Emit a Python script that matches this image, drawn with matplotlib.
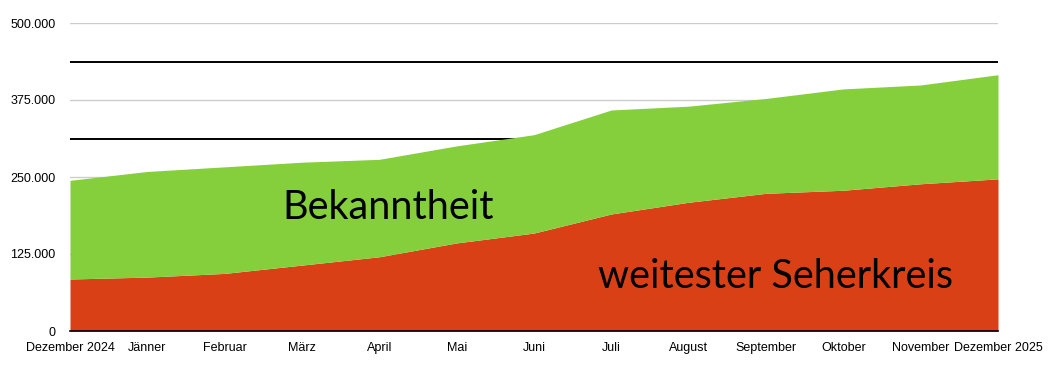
import matplotlib
matplotlib.use("Agg")
import matplotlib.pyplot as plt
import numpy as np

# Monate und Werte
monate = ["Dezember 2024", "Jänner", "Februar", "März", "April", "Mai", "Juni",
          "Juli", "August", "September", "Oktober", "November", "Dezember 2025"]
seherkreis = [84400, 87500, 93500, 107000, 120500, 143000, 159000,
              190000, 209000, 223500, 228500, 239000, 247000]
bekanntheit_gesamt = [244600, 259000, 266500, 274000, 278700, 300500, 318700,
                      358800, 365000, 377500, 393000, 399400, 416000]

y_ticks = [0, 125000, 250000, 375000, 500000]
y_ticklabels = ["0", "125.000", "250.000", "375.000", "500.000"]
zwischenlinien = [312500, 437500]

rot = "#D94016"
gruen = "#84CF3B"

x = np.arange(len(monate))

fig = plt.figure(figsize=(10.51, 3.78), dpi=100)
ax = fig.add_axes([70 / 1051, 47 / 378, 928 / 1051, 308 / 378])

# Gitterlinien hinter den Flächen
for y in y_ticks[1:]:
    ax.axhline(y, color="#cccccc", linewidth=1.0, zorder=0)
for y in zwischenlinien:
    ax.axhline(y, color="black", linewidth=1.4, zorder=0)

ax.fill_between(x, 0, seherkreis, color=rot, linewidth=0, zorder=2)
ax.fill_between(x, seherkreis, bekanntheit_gesamt, color=gruen, linewidth=0, zorder=2)

ax.set_xlim(0, len(monate) - 1)
ax.set_ylim(0, 500000)
ax.set_xticks(x)
ax.set_xticklabels(monate, family="Liberation Sans", fontsize=9)
ax.set_yticks(y_ticks)
ax.set_yticklabels(y_ticklabels, family="Liberation Sans", fontsize=9)
ax.tick_params(length=0)
ax.tick_params(axis="y", pad=10.5)
ax.tick_params(axis="x", pad=8)

for s in ["left", "right", "top"]:
    ax.spines[s].set_visible(False)
ax.spines["bottom"].set_color("black")
ax.spines["bottom"].set_linewidth(1.2)
ax.spines["bottom"].set_zorder(3)

ax.text(2.74, 182000, "Bekanntheit", family="Lato", fontsize=28.5,
        ha="left", va="baseline", zorder=4)
ax.text(6.83, 70000, "weitester Seherkreis", family="Lato", fontsize=28.5,
        ha="left", va="baseline", zorder=4)

fig.savefig("out.png", dpi=100)
